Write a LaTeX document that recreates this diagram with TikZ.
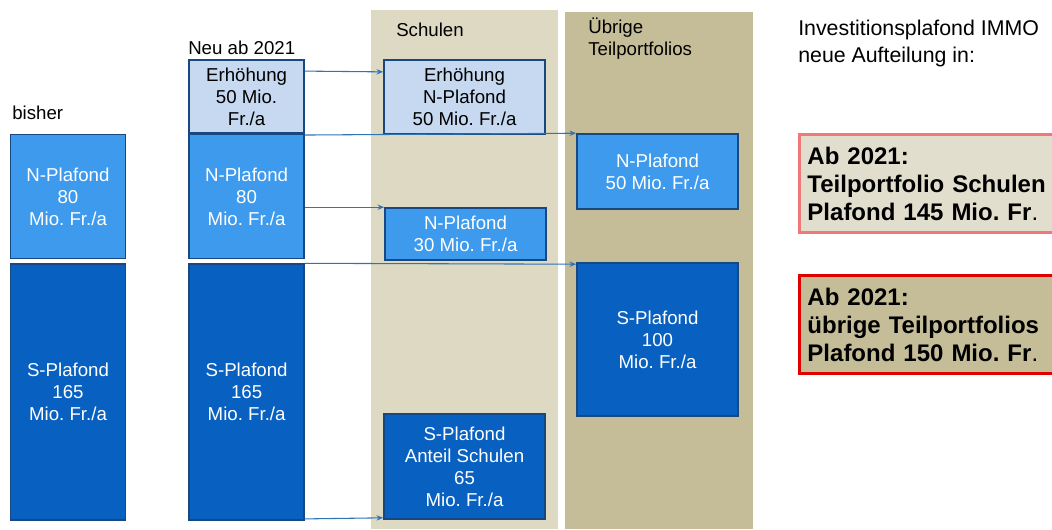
\documentclass[tikz,border=0pt]{standalone}
\usepackage{fontspec}
\setmainfont{Liberation Sans}
\usetikzlibrary{arrows.meta, positioning}
\definecolor{lightblue}{RGB}{198,217,241}
\definecolor{midblue}{RGB}{61,154,237}
\definecolor{darkblue}{RGB}{8,96,192}
\definecolor{boxline}{RGB}{24,72,130}
\definecolor{arrowblue}{RGB}{46,117,182}
\definecolor{schulbg}{RGB}{221,217,195}
\definecolor{uebbg}{RGB}{196,189,151}
\definecolor{infobg}{RGB}{226,222,206}
\definecolor{pinkline}{RGB}{240,120,120}
\definecolor{redline}{RGB}{224,0,0}
\frenchspacing

\begin{document}
\begin{tikzpicture}[
    x=0.75pt, y=-0.75pt,
    node distance=3pt,
    plafond/.style={rectangle, draw=boxline, line width=1.2pt, align=center, inner sep=0pt, font=\fontsize{14}{16.5}\selectfont},
    lightbox/.style={plafond, fill=lightblue, text=black},
    midbox/.style={plafond, fill=midblue, text=white},
    darkbox/.style={plafond, fill=darkblue, text=white},
    caption/.style={font=\fontsize{14}{16.5}\selectfont, align=left, inner sep=0pt, anchor=west},
    info/.style={anchor=north west, line width=2.2pt, align=left, text width=184.5pt, minimum height=73.5pt, inner xsep=6pt, font=\fontsize{18}{21}\selectfont\bfseries},
    flow/.style={-{Stealth[length=5pt, width=4pt]}, line width=0.8pt, arrowblue}
]
\useasboundingbox (0,0) rectangle (1052,529);

% portfolio columns
\fill[schulbg] (371,10) rectangle (558,529);
\fill[uebbg] (565,12) rectangle (753,529);

% bisher
\node[midbox, minimum width=86.25pt, minimum height=93pt] (bN) at (68,196.5) {N-Plafond\\80\\Mio. Fr./a};
\node[darkbox, minimum width=86.25pt, minimum height=192pt, below=of bN] (bS) {S-Plafond\\165\\Mio. Fr./a};

% neu ab 2021
\node[midbox, minimum width=86.25pt, minimum height=93pt, right=46.5pt of bN] (nN) {N-Plafond\\80\\Mio. Fr./a};
\node[lightbox, minimum width=86.25pt, minimum height=54.75pt, above=0pt of nN] (nE) {Erhöhung\\50 Mio.\\Fr./a};
\node[darkbox, minimum width=86.25pt, minimum height=192pt, right=46.5pt of bS] (nS) {S-Plafond\\165\\Mio. Fr./a};

% Schulen
\node[lightbox, minimum width=120.75pt, minimum height=55.5pt] (sE) at (464.5,97) {Erhöhung\\N-Plafond\\50 Mio. Fr./a};
\node[midbox, minimum width=120.75pt, minimum height=39pt] (sN) at (465.5,234) {N-Plafond\\30 Mio. Fr./a};
\node[darkbox, minimum width=120.75pt, minimum height=78.75pt] (sS) at (464.5,466.5) {S-Plafond\\Anteil Schulen\\65\\Mio. Fr./a};

% uebrige Teilportfolios
\node[midbox, minimum width=120.75pt, minimum height=56.25pt] (uN) at (657.5,171.5) {N-Plafond\\50 Mio. Fr./a};
\node[darkbox, minimum width=120.75pt, minimum height=114.75pt] (uS) at (657.5,339.5) {S-Plafond\\100\\Mio. Fr./a};

% labels
\node[caption] (bisher) at (12,113) {bisher};
\node[caption] (neu) at (188,48) {Neu ab 2021};
\node[caption] (schulen) at (396,30) {Schulen};
\node[caption] (uebrige) at (588,39) {Übrige\\Teilportfolios};
\node[caption, font=\fontsize{16}{20.25}\selectfont] (titel) at (798,43.5) {Investitionsplafond IMMO\\neue Aufteilung in:};

% summary
\node[info, draw=pinkline, fill=infobg] (infoS) at (798,133) {Ab 2021:\\Teilportfolio Schulen\\Plafond 145 Mio. Fr{\mdseries.}};
\node[info, draw=redline, fill=uebbg] (infoU) at (798,274) {Ab 2021:\\übrige Teilportfolios\\Plafond 150 Mio. Fr{\mdseries.}};

% flows
\draw[flow] ([yshift=-9pt]nE.north east) -- ([yshift=-9.5pt]sE.north west);
\draw[flow] ([yshift=-1pt]nN.north east) -- (uN.north west);
\draw[flow] (nN.east |- sN.north west) -- (sN.north west);
\draw[flow] (nS.north east) -- ([yshift=-1.5pt]uS.north west);
\draw[flow] ([yshift=1.5pt]nS.south east) -- ([yshift=1.5pt]sS.south west);

\end{tikzpicture}
\end{document}
